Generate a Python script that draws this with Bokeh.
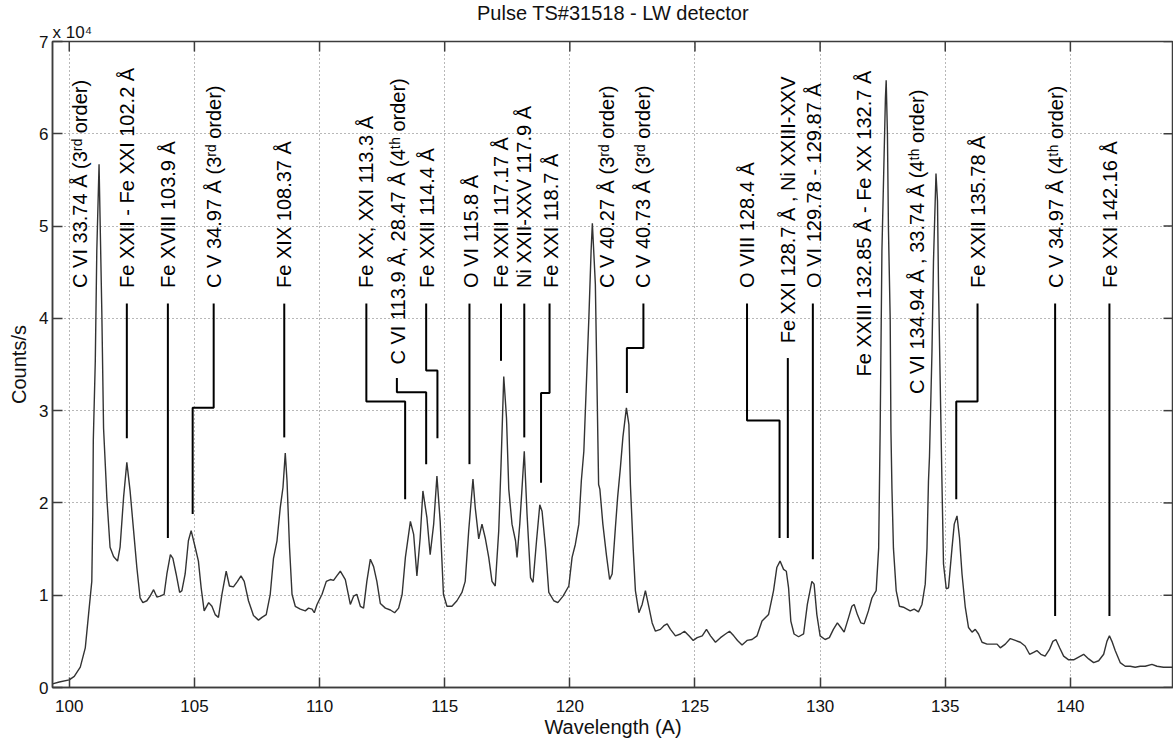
import numpy as np
from math import pi
from bokeh.plotting import figure
from bokeh.models import Range1d, FixedTicker, Title
from bokeh.core.properties import value
from bokeh.embed import file_html
from bokeh.resources import INLINE

# ---------------- data ----------------
wavelength = [
    99.33, 99.6, 100.0, 100.2, 100.44, 100.64, 100.77, 100.9, 100.94, 100.96, 101.04, 101.1, 101.19,
    101.3, 101.37, 101.47, 101.5, 101.63, 101.77, 101.83, 101.93, 102.03, 102.17, 102.3, 102.43,
    102.57, 102.7, 102.83, 102.94, 103.1, 103.23, 103.37, 103.5, 103.63, 103.79, 103.9, 104.04,
    104.14, 104.27, 104.41, 104.5, 104.63, 104.76, 104.87, 105.03, 105.16, 105.27, 105.39, 105.57,
    105.7, 105.83, 105.96, 106.1, 106.27, 106.4, 106.56, 106.72, 106.86, 106.99, 107.16, 107.36,
    107.56, 107.7, 107.87, 108.03, 108.16, 108.3, 108.43, 108.54, 108.63, 108.7, 108.8, 108.9,
    109.03, 109.23, 109.43, 109.56, 109.7, 109.79, 109.9, 110.1, 110.27, 110.43, 110.56, 110.69,
    110.83, 111.03, 111.23, 111.36, 111.49, 111.63, 111.76, 111.89, 112.03, 112.16, 112.29, 112.43,
    112.63, 112.83, 113.0, 113.16, 113.3, 113.43, 113.63, 113.76, 113.89, 114.02, 114.13, 114.29,
    114.42, 114.56, 114.69, 114.82, 114.95, 115.09, 115.29, 115.49, 115.69, 115.82, 115.96, 116.13,
    116.22, 116.36, 116.49, 116.62, 116.76, 116.89, 117.02, 117.16, 117.25, 117.36, 117.47, 117.56,
    117.69, 117.83, 117.89, 118.0, 118.09, 118.18, 118.29, 118.43, 118.53, 118.67, 118.8, 118.89,
    119.03, 119.16, 119.36, 119.52, 119.73, 119.96, 120.09, 120.22, 120.36, 120.46, 120.56, 120.76,
    120.85, 120.9, 121.02, 121.15, 121.2, 121.32, 121.46, 121.59, 121.69, 121.82, 121.91, 122.02,
    122.12, 122.26, 122.36, 122.42, 122.53, 122.62, 122.76, 122.89, 123.02, 123.16, 123.29, 123.42,
    123.62, 123.76, 123.89, 124.02, 124.22, 124.42, 124.58, 124.76, 124.93, 125.09, 125.29, 125.46,
    125.62, 125.82, 126.02, 126.22, 126.38, 126.55, 126.7, 126.88, 127.08, 127.28, 127.48, 127.68,
    127.94, 128.14, 128.27, 128.4, 128.54, 128.65, 128.74, 128.83, 128.96, 129.14, 129.34, 129.49,
    129.67, 129.76, 129.87, 130.0, 130.2, 130.37, 130.53, 130.69, 130.83, 130.96, 131.14, 131.27,
    131.36, 131.49, 131.63, 131.76, 131.93, 132.07, 132.24, 132.34, 132.4, 132.47, 132.61, 132.64,
    132.69, 132.73, 132.8, 132.83, 132.87, 132.93, 133.04, 133.17, 133.33, 133.47, 133.6, 133.76,
    133.93, 134.07, 134.2, 134.27, 134.33, 134.37, 134.47, 134.53, 134.63, 134.69, 134.73, 134.8,
    134.87, 134.93, 135.04, 135.13, 135.27, 135.36, 135.47, 135.57, 135.67, 135.8, 135.93, 136.07,
    136.2, 136.33, 136.47, 136.67, 136.87, 137.07, 137.2, 137.4, 137.6, 137.8, 138.0, 138.19,
    138.37, 138.53, 138.66, 138.82, 138.99, 139.16, 139.3, 139.42, 139.57, 139.73, 139.93, 140.13,
    140.33, 140.53, 140.73, 140.93, 141.13, 141.33, 141.46, 141.56, 141.66, 141.79, 141.99, 142.19,
    142.39, 142.59, 142.79, 142.99, 143.26, 143.46, 143.72, 144.12,
]
counts_1e4 = [
    0.04, 0.06, 0.083, 0.12, 0.22, 0.43, 0.79, 1.15, 1.88, 2.67, 3.54, 4.73, 5.67,
    4.08, 2.81, 2.24, 2.06, 1.52, 1.42, 1.40, 1.37, 1.52, 2.06, 2.44, 2.13,
    1.70, 1.30, 0.97, 0.92, 0.94, 0.99, 1.06, 0.98, 0.99, 1.01, 1.23, 1.44,
    1.40, 1.23, 1.03, 1.05, 1.23, 1.59, 1.70, 1.52, 1.37, 1.08, 0.83, 0.92,
    0.88, 0.79, 0.76, 1.01, 1.26, 1.10, 1.09, 1.15, 1.21, 1.15, 0.94, 0.78,
    0.73, 0.76, 0.79, 1.01, 1.40, 1.59, 1.95, 2.17, 2.54, 2.24, 1.52, 1.01,
    0.88, 0.85, 0.83, 0.86, 0.85, 0.81, 0.90, 1.01, 1.15, 1.17, 1.16, 1.21,
    1.26, 1.17, 0.90, 0.99, 1.01, 0.88, 0.86, 1.15, 1.39, 1.31, 1.15, 0.91,
    0.86, 0.84, 0.81, 0.86, 1.01, 1.41, 1.80, 1.66, 1.21, 1.62, 2.13, 1.84,
    1.44, 1.77, 2.29, 1.80, 1.01, 0.88, 0.88, 0.94, 1.03, 1.15, 1.70, 2.26,
    1.95, 1.61, 1.77, 1.62, 1.41, 1.15, 1.10, 1.70, 2.40, 3.37, 2.92, 2.15,
    1.77, 1.59, 1.41, 1.77, 2.16, 2.56, 1.88, 1.19, 1.14, 1.59, 1.98, 1.91,
    1.51, 1.03, 0.94, 0.92, 0.99, 1.10, 1.41, 1.55, 1.77, 2.24, 2.56, 4.00,
    4.73, 5.03, 4.37, 2.20, 2.15, 1.77, 1.44, 1.17, 1.23, 1.73, 2.06, 2.38,
    2.71, 3.03, 2.85, 2.20, 1.51, 1.05, 0.81, 0.90, 1.05, 0.87, 0.70, 0.61,
    0.63, 0.67, 0.69, 0.63, 0.56, 0.58, 0.61, 0.56, 0.51, 0.54, 0.56, 0.63,
    0.56, 0.49, 0.54, 0.58, 0.61, 0.56, 0.51, 0.46, 0.51, 0.52, 0.56, 0.72,
    0.79, 1.05, 1.30, 1.37, 1.28, 1.26, 1.08, 0.72, 0.58, 0.55, 0.58, 0.90,
    1.15, 1.12, 0.79, 0.56, 0.52, 0.54, 0.63, 0.70, 0.65, 0.60, 0.76, 0.88,
    0.90, 0.79, 0.70, 0.69, 0.83, 0.97, 1.05, 1.51, 2.80, 4.73, 6.39, 6.58,
    6.00, 4.98, 4.00, 2.78, 2.16, 1.51, 1.05, 0.88, 0.87, 0.85, 0.83, 0.85,
    0.82, 0.90, 1.12, 1.51, 2.24, 2.50, 3.64, 4.62, 5.57, 5.27, 4.37, 3.28,
    2.20, 1.34, 1.07, 1.08, 1.51, 1.77, 1.86, 1.62, 1.23, 0.87, 0.65, 0.60,
    0.63, 0.58, 0.49, 0.47, 0.47, 0.47, 0.43, 0.47, 0.53, 0.51, 0.49, 0.45,
    0.36, 0.38, 0.40, 0.36, 0.34, 0.41, 0.50, 0.52, 0.43, 0.34, 0.30, 0.30,
    0.33, 0.36, 0.31, 0.27, 0.29, 0.36, 0.50, 0.56, 0.50, 0.40, 0.27, 0.23,
    0.23, 0.22, 0.23, 0.23, 0.25, 0.23, 0.22, 0.22,
]

line_labels = [
    "C VI 33.74 Å (3ʳᵈ order)",
    "Fe XXII - Fe XXI 102.2 Å",
    "Fe XVIII 103.9 Å",
    "C V 34.97 Å (3ʳᵈ order)",
    "Fe XIX 108.37 Å",
    "Fe XX, XXI 113.3 Å",
    "C VI 113.9 Å, 28.47 Å (4ᵗʰ order)",
    "Fe XXII 114.4 Å",
    "O VI 115.8 Å",
    "Fe XXII 117.17 Å",
    "Ni XXII-XXV 117.9 Å",
    "Fe XXI 118.7 Å",
    "C V 40.27 Å (3ʳᵈ order)",
    "C V 40.73 Å (3ʳᵈ order)",
    "O VIII 128.4 Å",
    "Fe XXI 128.7 Å , Ni XXIII-XXV",
    "O VI 129.78 - 129.87 Å",
    "Fe XXIII 132.85 Å - Fe XX 132.7 Å",
    "C VI 134.94 Å , 33.74 Å (4ᵗʰ order)",
    "Fe XXII 135.78 Å",
    "C V 34.97 Å (4ᵗʰ order)",
    "Fe XXI 142.16 Å",
]
label_wl = [100.42, 102.30, 103.96, 105.77, 108.56, 111.87, 113.12, 114.29, 116.04, 117.25,
            118.17, 119.26, 121.50, 122.93, 127.09, 128.73, 129.76, 131.76, 133.87, 136.32,
            139.41, 141.59]
label_y = [4.33, 4.33, 4.33, 4.33, 4.33, 4.33, 3.50, 4.33, 4.33, 4.33,
           4.33, 4.33, 4.33, 4.33, 4.33, 3.73, 4.33, 3.37, 3.18, 4.33,
           4.33, 4.33]

leader_wl = [
    [102.30, 102.30],
    [103.94, 103.94],
    [105.77, 105.77, 104.93, 104.93],
    [108.59, 108.59],
    [111.87, 111.87, 113.42, 113.42],
    [113.09, 113.09, 114.26, 114.26],
    [114.26, 114.26, 114.71, 114.71],
    [115.99, 115.99],
    [117.25, 117.25],
    [118.18, 118.18],
    [119.19, 119.19, 118.85, 118.85],
    [122.94, 122.94, 122.28, 122.28],
    [127.08, 127.08, 128.38, 128.38],
    [128.71, 128.71],
    [129.71, 129.71],
    [136.29, 136.29, 135.44, 135.44],
    [139.39, 139.39],
    [141.56, 141.56],
]
leader_y = [
    [4.16, 2.70],
    [4.16, 1.62],
    [4.16, 3.03, 3.03, 1.88],
    [4.16, 2.71],
    [4.16, 3.10, 3.10, 2.04],
    [3.355, 3.20, 3.20, 2.42],
    [4.16, 3.435, 3.435, 2.70],
    [4.16, 2.42],
    [4.16, 3.54],
    [4.16, 2.71],
    [4.16, 3.19, 3.19, 2.22],
    [4.16, 3.68, 3.68, 3.19],
    [4.16, 2.894, 2.894, 1.62],
    [3.57, 1.62],
    [4.16, 1.39],
    [4.16, 3.10, 3.10, 2.04],
    [4.16, 0.776],
    [4.16, 0.776],
]

x_ticks = [100, 105, 110, 115, 120, 125, 130, 135, 140]
y_ticks = [0, 1, 2, 3, 4, 5, 6, 7]
title_text = "Pulse TS#31518 - LW detector"
multiplier_text = "x 10⁴"

# ---------------- figure ----------------
FONT = "Liberation Sans"
AXC = "#3c3c3c"
X0, X1, Y0, Y1 = 99.33, 144.12, 0, 7

p = figure(width=1173, height=745,
           x_range=Range1d(X0, X1), y_range=Range1d(Y0, Y1),
           output_backend="svg", toolbar_location=None,
           min_border_left=52, min_border_right=0, min_border_top=41, min_border_bottom=58)
p.title = None
p.background_fill_color = "white"
p.border_fill_color = "white"
p.outline_line_color = AXC
p.outline_line_width = 1.5

# inner title: axis multiplier, outer title: main title
p.add_layout(Title(text=multiplier_text, align="left", offset=0, standoff=0,
                   text_font=FONT, text_font_size="17px", text_font_style="normal",
                   text_color="#111111"), "above")
p.add_layout(Title(text=title_text, align="center", standoff=-6,
                   text_font=FONT, text_font_size="20px", text_font_style="normal",
                   text_color="#111111"), "above")

for ax in (p.xaxis[0], p.yaxis[0]):
    ax.axis_line_color = AXC
    ax.axis_line_width = 1.5
    ax.major_tick_line_color = AXC
    ax.major_tick_line_width = 1.5
    ax.major_tick_in = 10
    ax.major_tick_out = 0
    ax.minor_tick_line_color = None
    ax.major_label_text_font = FONT
    ax.major_label_text_font_size = "17px"
    ax.major_label_text_color = "#111111"
    ax.axis_label_text_font = FONT
    ax.axis_label_text_font_size = "20px"
    ax.axis_label_text_font_style = "normal"
    ax.axis_label_text_color = "#111111"

p.xaxis.ticker = FixedTicker(ticks=x_ticks)
p.yaxis.ticker = FixedTicker(ticks=y_ticks)
p.xaxis.axis_label = "Wavelength (A)"
p.yaxis.axis_label = "Counts/s"
p.xaxis.major_label_standoff = 12
p.xaxis.axis_label_standoff = 1
p.yaxis.major_label_standoff = 4
p.yaxis.axis_label_standoff = 6

p.xgrid.ticker = FixedTicker(ticks=x_ticks)
p.ygrid.ticker = FixedTicker(ticks=y_ticks)
for g in (p.xgrid[0], p.ygrid[0]):
    g.grid_line_color = "#707070"
    g.grid_line_dash = "1 3"
    g.grid_line_width = 1

# inward tick marks on top and right box edges (MATLAB style)
tick_dy = 10 / 92.3
tick_dx = 10 / 25.03
p.segment(x0=x_ticks, y0=[Y1] * len(x_ticks), x1=x_ticks, y1=[Y1 - tick_dy] * len(x_ticks),
          line_color=AXC, line_width=1.5)
p.segment(x0=[X1] * len(y_ticks), y0=y_ticks, x1=[X1 - tick_dx] * len(y_ticks), y1=y_ticks,
          line_color=AXC, line_width=1.5)

# spectrum
p.line(wavelength, counts_1e4, line_color="#333333", line_width=1.4)

# leader lines
p.multi_line(leader_wl, leader_y, line_color="black", line_width=2)

# line labels
p.text(x=label_wl, y=label_y, text=line_labels, angle=pi / 2,
       text_align="left", text_baseline="middle",
       text_font=value(FONT), text_font_size="20px", text_color="black")

open("out.html", "w").write(file_html(p, INLINE))
